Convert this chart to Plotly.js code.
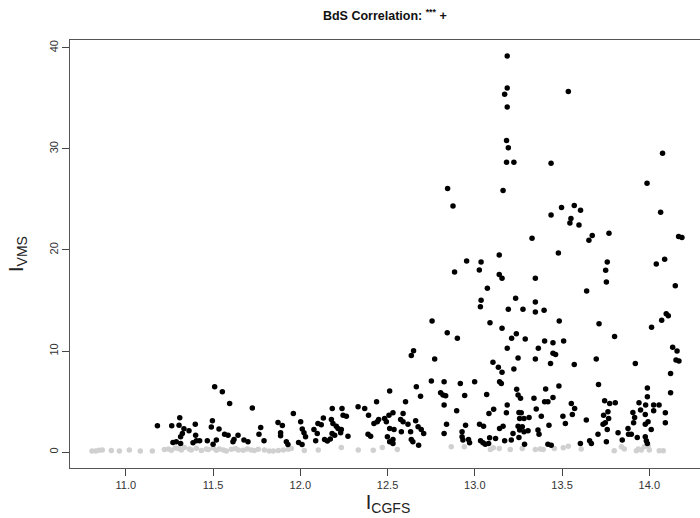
<!DOCTYPE html>
<html>
<head>
<meta charset="utf-8">
<script src="https://cdn.plot.ly/plotly-3.0.1.min.js"></script>
<style>
html,body{margin:0;padding:0;background:#fff;overflow:hidden;width:700px;height:518px;}
#chart{width:706px;height:518px;}
</style>
</head>
<body>
<div id="chart"></div>
<script>
// Gray (non-significant) points near zero
var grayX = [10.806,10.828,10.846,10.865,10.917,10.963,11.020,11.083,11.152,11.221,11.244,11.261,11.284,11.301,11.318,11.335,11.364,11.375,11.404,11.433,11.461,11.473,11.501,11.519,11.536,11.559,11.576,11.605,11.628,11.645,11.673,11.696,11.719,11.736,11.759,11.794,11.822,11.845,11.874,11.903,11.931,11.948,12.023,12.103,12.235,12.332,12.418,12.470,12.556,12.865,12.940,13.089,13.106,13.140,13.203,13.272,13.347,13.375,13.392,13.456,13.507,13.536,13.610,13.799,13.840,13.857,13.926,13.937,13.954,13.971,13.994,14.000,14.057,14.080];
var grayY = [0.10,0.12,0.18,0.22,0.15,0.12,0.20,0.10,0.12,0.25,0.30,0.18,0.42,0.35,0.22,0.45,0.30,0.20,0.38,0.15,0.30,0.25,0.40,0.18,0.30,0.22,0.12,0.28,0.35,0.20,0.18,0.30,0.22,0.15,0.28,0.20,0.10,0.12,0.15,0.22,0.28,0.35,0.15,0.20,0.46,0.20,0.18,0.46,0.27,0.52,0.52,0.27,0.43,0.36,0.27,0.36,0.27,0.30,0.27,0.36,0.43,0.59,0.30,0.13,0.52,0.30,0.13,0.30,0.20,0.52,0.59,0.20,0.13,0.13];

// Black (significant) points
var blackX = [
11.509,11.553,11.595,11.725,11.181,11.263,11.309,11.305,11.333,11.362,11.324,11.314,11.398,11.400,11.496,11.490,11.534,11.566,11.586,11.643,11.620,11.614,11.677,11.700,11.763,11.773,11.270,11.289,11.314,11.385,11.404,11.423,11.467,11.500,11.519,
11.792,11.872,11.897,11.887,11.887,11.920,11.929,11.960,12.002,12.011,12.021,12.030,11.990,12.010,12.078,12.101,12.120,12.132,12.097,12.088,12.139,12.155,12.172,12.183,12.239,12.245,12.264,12.178,12.187,12.206,12.216,12.235,12.231,12.197,12.182,12.273,12.331,12.369,12.391,12.437,12.422,12.441,12.449,12.483,12.508,12.493,12.512,12.388,12.403,12.499,12.512,12.512,
12.665,12.751,12.824,12.917,12.999,13.142,13.152,12.689,12.603,12.804,12.818,12.833,12.824,12.942,13.068,12.896,12.531,12.589,12.575,12.589,12.617,12.661,12.675,12.693,12.707,12.537,12.579,12.632,12.531,12.531,12.636,12.645,12.678,12.838,12.824,12.947,12.927,12.927,12.932,12.964,12.970,13.027,13.050,13.033,13.047,13.060,13.085,13.079,13.119,13.081,13.108,13.142,13.162,13.171,13.181,13.186,13.209,13.240,13.248,13.262,13.253,13.266,13.257,13.282,13.248,13.272,13.257,13.282,13.305,13.311,13.253,13.285,13.339,13.352,13.362,13.368,13.219,
13.406,13.482,13.709,13.989,14.122,13.400,13.419,13.448,13.553,13.572,13.559,13.505,13.519,13.381,13.425,13.639,13.744,13.773,13.805,13.763,13.738,13.767,13.748,13.735,13.759,13.706,13.754,13.821,13.845,13.878,13.881,13.897,13.906,13.916,13.910,13.941,13.950,13.979,13.989,13.977,13.977,13.993,14.011,14.025,14.056,14.025,14.092,14.092,13.931,13.977,13.983,13.989,13.605,13.658,13.668,13.419,13.438,
13.328,13.140,12.953,13.036,12.884,13.026,13.140,13.156,13.347,13.072,13.234,13.036,13.032,13.192,13.276,13.347,13.347,12.755,13.087,13.156,12.842,12.900,13.238,13.211,13.289,13.186,13.364,12.649,12.636,12.770,13.248,13.347,13.104,13.135,13.156,13.224,
13.673,13.654,14.168,14.187,13.479,13.759,13.750,13.754,14.040,14.088,14.149,13.641,13.397,13.484,13.712,13.801,14.097,14.109,14.071,14.013,13.400,13.448,13.509,13.448,13.463,13.434,13.570,13.696,13.920,14.134,14.159,14.153,14.170,14.122,
13.186,13.186,13.171,13.186,13.536,13.182,13.192,13.182,13.224,13.437,14.076,12.844,12.875,13.162,13.987,14.065,13.437,13.497,13.570,13.606,13.551,13.545,13.597,13.769
];
var blackY = [
6.47,5.97,4.82,4.36,2.61,2.61,3.40,2.67,2.31,2.11,1.85,1.52,2.77,1.68,3.10,2.48,2.28,1.78,1.68,1.68,1.26,1.02,1.19,1.02,1.78,2.44,0.96,1.02,0.86,0.92,1.12,1.12,1.12,0.79,1.19,
1.12,2.94,2.64,1.91,1.61,1.02,0.76,3.83,3.00,2.28,1.91,1.52,0.96,0.76,2.25,2.84,2.70,3.37,1.85,1.12,1.26,1.09,1.29,4.32,4.32,3.66,3.56,3.24,2.84,2.57,2.34,2.25,1.91,1.68,1.85,1.58,4.49,4.32,3.66,4.98,2.84,3.00,3.24,3.33,3.66,3.00,2.34,1.78,1.58,1.52,1.02,6.04,
6.47,7.03,6.96,6.80,6.96,6.96,6.80,5.54,4.98,5.87,5.64,5.57,4.65,5.61,5.71,4.09,3.89,3.83,3.24,3.00,2.77,3.10,2.51,2.25,1.85,2.25,2.01,2.01,1.26,0.86,1.26,1.02,0.69,2.77,1.85,2.67,2.01,1.52,1.19,1.26,0.92,2.77,2.57,1.12,0.92,0.79,1.42,0.86,1.36,3.83,4.23,2.34,2.57,1.12,3.89,4.65,1.19,6.21,5.64,5.32,3.93,3.89,3.33,3.33,2.57,2.51,2.18,2.01,2.11,3.43,1.45,0.79,5.32,4.26,2.18,1.78,1.85,
6.24,6.53,6.70,6.34,5.87,4.98,4.98,5.41,4.82,4.32,3.73,3.56,2.84,3.56,2.67,3.17,5.08,4.82,4.88,3.99,3.66,3.33,2.90,2.77,2.25,1.78,1.02,1.91,1.19,2.34,1.78,1.78,3.93,3.43,2.90,4.88,4.16,4.65,5.48,3.73,2.77,3.00,2.25,4.65,4.65,4.09,3.89,2.90,1.45,1.52,1.12,0.86,0.86,1.12,0.86,0.79,0.69,
21.16,19.50,18.91,18.81,17.82,18.02,17.56,17.20,17.20,16.21,15.22,15.02,14.39,14.13,14.13,14.85,13.86,12.97,12.80,12.25,11.81,11.26,11.71,11.26,11.19,10.27,10.27,10.03,9.57,9.21,9.31,9.21,8.88,8.39,7.89,8.22,
21.42,20.96,21.32,21.22,19.70,18.81,17.99,16.83,18.61,19.08,16.47,15.94,14.03,12.97,12.71,11.45,13.70,13.50,13.04,12.35,10.99,10.83,10.99,9.77,9.67,8.78,8.68,9.21,8.78,10.37,10.00,9.11,9.01,7.79,
39.18,36.01,35.41,34.13,35.68,30.82,30.10,28.68,28.68,28.58,29.57,26.07,24.36,25.87,26.60,23.73,23.47,24.19,24.39,23.93,23.10,22.67,22.48,21.65
];

var xTicks = [11.0, 11.5, 12.0, 12.5, 13.0, 13.5, 14.0];
var yTicks = [0, 10, 20, 30, 40];

var fontFam = '"Liberation Sans", Arial, Helvetica, sans-serif';

var traces = [
  {x: grayX, y: grayY, type: 'scatter', mode: 'markers',
   marker: {color: '#d0d0d0', size: 5.5}, hoverinfo: 'none'},
  {x: blackX, y: blackY, type: 'scatter', mode: 'markers',
   marker: {color: '#000000', size: 5.5}, hoverinfo: 'none'}
];

var layout = {
  width: 706, height: 518,
  margin: {l: 70, r: 0, t: 40, b: 50},
  paper_bgcolor: '#ffffff', plot_bgcolor: '#ffffff',
  showlegend: false,
  font: {family: fontFam, color: '#222'},
  title: {text: '<b>BdS Correlation: <sup>***</sup> +</b>',
          font: {family: fontFam, size: 12.5, color: '#111'},
          xref: 'paper', x: 0.495, xanchor: 'center',
          yref: 'container', y: 0.970, yanchor: 'middle'},
  xaxis: {range: [10.68, 14.325], tickvals: xTicks, ticktext: xTicks.map(function(v){return v.toFixed(1);}),
          ticks: 'outside', ticklen: 7, tickcolor: '#444', tickwidth: 1,
          showline: true, mirror: true, linecolor: '#555', linewidth: 1,
          showgrid: false, zeroline: false,
          tickfont: {family: fontFam, size: 11, color: '#333'},
          title: {text: 'I<sub>CGFS</sub>', font: {family: fontFam, size: 20, color: '#222'}, standoff: 4}},
  yaxis: {range: [-1.57, 40.77], tickvals: yTicks,
          ticks: 'outside', ticklen: 7, tickcolor: '#444', tickwidth: 1,
          showline: true, mirror: true, linecolor: '#555', linewidth: 1,
          showgrid: false, zeroline: false, tickangle: -90,
          tickfont: {family: fontFam, size: 11, color: '#333'},
          title: {text: 'I<sub>VMS</sub>', font: {family: fontFam, size: 20, color: '#222'}, standoff: 18}}
};

Plotly.newPlot('chart', traces, layout, {staticPlot: true, displayModeBar: false});
</script>
</body>
</html>
